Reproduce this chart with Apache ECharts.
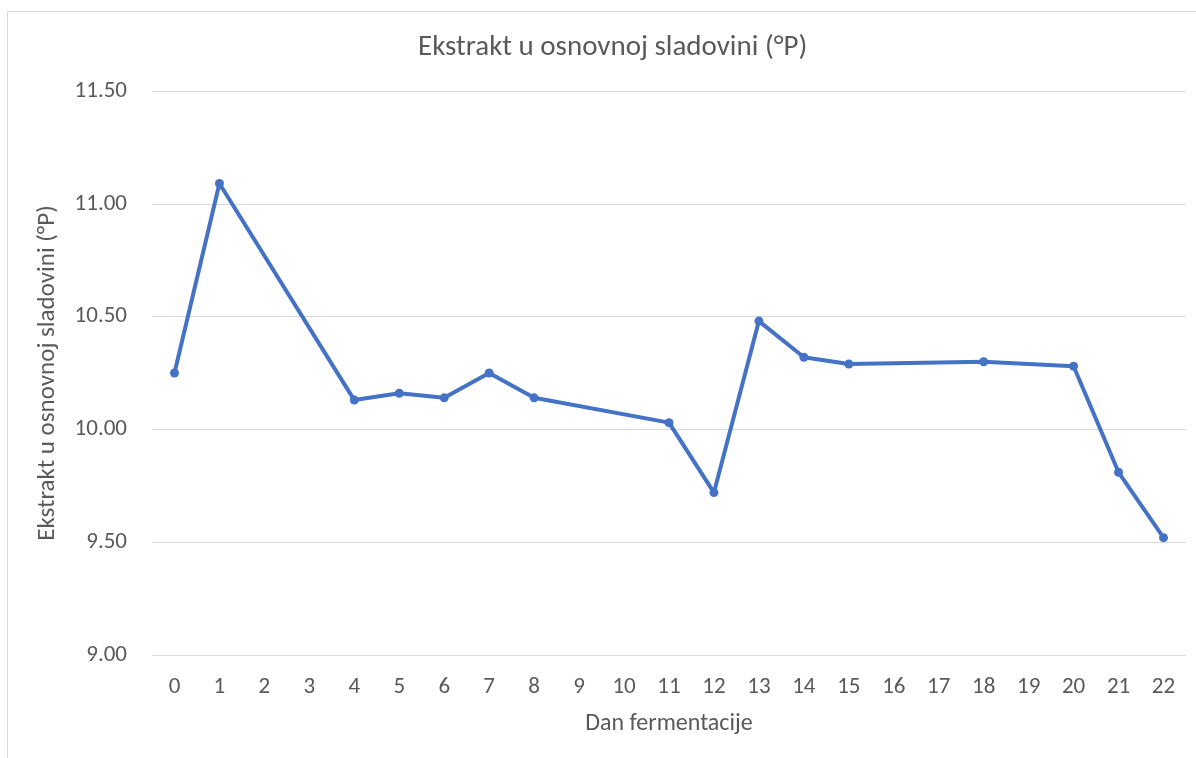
<!DOCTYPE html>
<html>
<head>
<meta charset="utf-8">
<script src="https://cdn.jsdelivr.net/npm/echarts@6/dist/echarts.min.js"></script>
<style>
  html, body { margin: 0; padding: 0; background: #fff; }
  #chart { width: 1196px; height: 758px; }
</style>
</head>
<body>
<div id="chart"></div>
<script>
// dani fermentacije (kategorije na x osi)
var days = ['0', '1', '2', '3', '4', '5', '6', '7', '8', '9', '10', '11', '12', '13', '14', '15', '16', '17', '18', '19', '20', '21', '22'];
// ekstrakt (°P), null = nema mjerenja
var extract = [10.25, 11.09, null, null, 10.13, 10.16, 10.14, 10.25, 10.14, null, null, 10.03, 9.72, 10.48, 10.32, 10.29, null, null, 10.30, null, 10.28, 9.81, 9.52];
var yTicks = { min: 9, max: 11.5, step: 0.5 };

var font = 'Calibri, Carlito, Lato, "Open Sans", sans-serif';
var myChart = echarts.init(document.getElementById('chart'));
var option = {
    backgroundColor: '#fff',
    animation: false,
    graphic: [{
        type: 'rect',
        shape: { x: 7.5, y: 11.5, width: 1200, height: 760 },
        style: { fill: 'none', stroke: '#d9d9d9', lineWidth: 1 },
        silent: true
    }],
    title: {
        text: 'Ekstrakt u osnovnoj sladovini (°P)',
        left: 413,
        top: 28,
        textStyle: { fontFamily: font, fontSize: 29, fontWeight: 'normal', color: '#595959' }
    },
    grid: {
        left: 152,
        right: 10,
        top: 91,
        bottom: 103
    },
    xAxis: {
        type: 'category',
        data: days,
        boundaryGap: true,
        name: 'Dan fermentacije',
        nameLocation: 'middle',
        nameGap: 57,
        nameTextStyle: { fontFamily: font, fontSize: 24, color: '#595959' },
        axisLine: { show: false },
        axisTick: { show: false },
        axisLabel: { fontFamily: font, fontSize: 23, color: '#595959', margin: 21 }
    },
    yAxis: {
        type: 'value',
        min: yTicks.min,
        max: yTicks.max,
        interval: yTicks.step,
        name: 'Ekstrakt u osnovnoj sladovini (°P)',
        nameLocation: 'middle',
        nameRotate: 90,
        nameGap: 92,
        nameTextStyle: { fontFamily: font, fontSize: 25, color: '#595959' },
        axisLine: { show: false },
        axisTick: { show: false },
        axisLabel: {
            fontFamily: font, fontSize: 23, color: '#595959', margin: 25,
            formatter: function (v) { return v.toFixed(2); }
        },
        splitLine: { lineStyle: { color: '#d9d9d9', width: 1 } }
    },
    series: [{
        name: 'Ekstrakt',
        type: 'line',
        data: extract,
        connectNulls: true,
        symbol: 'circle',
        symbolSize: 9,
        lineStyle: { color: '#4472c4', width: 4 },
        itemStyle: { color: '#4472c4' }
    }]
};
myChart.setOption(option);
</script>
</body>
</html>
